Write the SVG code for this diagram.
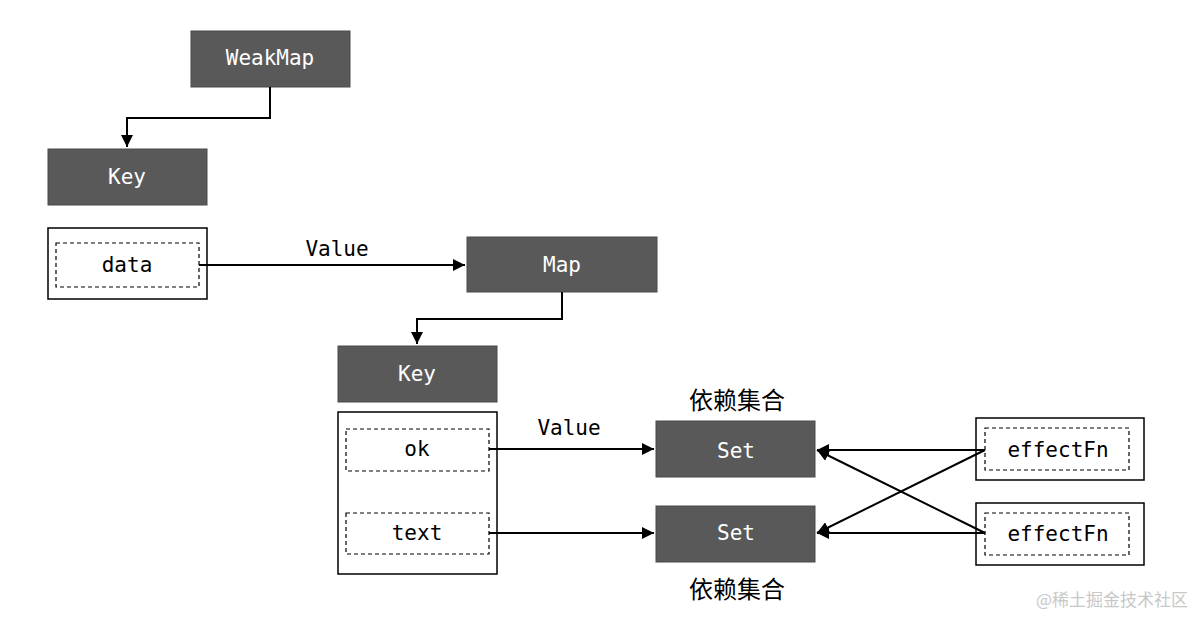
<svg xmlns="http://www.w3.org/2000/svg" width="1196" height="622" viewBox="0 0 1196 622">
<style>
.dark{fill:#595959;stroke:#4a4a4a;stroke-width:1}
.box{fill:#fff;stroke:#000;stroke-width:1.5}
.dash{fill:none;stroke:#000;stroke-width:1.2;stroke-dasharray:4 3}
.wt{font-family:"DejaVu Sans Mono","Liberation Mono",monospace;font-size:21px;fill:#fff;text-anchor:middle;dominant-baseline:central}
.bt{font-family:"DejaVu Sans Mono","Liberation Mono",monospace;font-size:21px;fill:#000;text-anchor:middle;dominant-baseline:central}
.cn{font-family:"Noto Sans CJK SC","Noto Sans",sans-serif;font-size:24px;font-weight:400;fill:#000;text-anchor:middle;dominant-baseline:central}
.ln{fill:none;stroke:#000;stroke-width:2}
</style>
<defs>
<marker id="ah2" viewBox="0 0 10 10" refX="10" refY="5" markerWidth="12" markerHeight="12" markerUnits="userSpaceOnUse" orient="auto">
<path d="M0,0 L10,5 L0,10 z" fill="#000"/>
</marker>
</defs>
<rect width="1196" height="622" fill="#fff"/>
<g id="weakmap"><rect class="dark" x="191" y="31" width="159" height="56"/><text class="wt" x="270" y="58">WeakMap</text></g>
<g id="key1"><rect class="dark" x="48" y="149" width="159" height="56"/><text class="wt" x="127" y="177">Key</text></g>
<g id="data"><rect class="box" x="48" y="228" width="159" height="71"/><rect class="dash" x="56" y="243" width="143" height="44"/><text class="bt" x="127" y="265">data</text></g>
<g id="map"><rect class="dark" x="467" y="237" width="190" height="55"/><text class="wt" x="562" y="265">Map</text></g>
<g id="key2"><rect class="dark" x="338" y="346" width="159" height="56"/><text class="wt" x="417" y="374">Key</text></g>
<g id="keys"><rect class="box" x="338" y="412" width="159" height="162"/>
<rect class="dash" x="346" y="429" width="143" height="42"/><text class="bt" x="417" y="449">ok</text>
<rect class="dash" x="346" y="513" width="143" height="41"/><text class="bt" x="417" y="533">text</text></g>
<g id="set1"><rect class="dark" x="656" y="421" width="159" height="56"/><text class="wt" x="736" y="451">Set</text><text class="cn" x="737" y="398">依赖集合</text></g>
<g id="set2"><rect class="dark" x="656" y="506" width="159" height="56"/><text class="wt" x="736" y="533">Set</text><text class="cn" x="737" y="587">依赖集合</text></g>
<g id="effect1"><rect class="box" x="976" y="418" width="168" height="62"/><rect class="dash" x="985" y="428" width="144" height="42"/><text class="bt" x="1058" y="450">effectFn</text></g>
<g id="effect2"><rect class="box" x="976" y="503" width="168" height="62"/><rect class="dash" x="985" y="513" width="144" height="42"/><text class="bt" x="1058" y="534">effectFn</text></g>
<g id="connectors">
<path class="ln" d="M270,87 V118 H127 V147" marker-end="url(#ah2)"/>
<path class="ln" d="M199,265 H465" marker-end="url(#ah2)"/>
<path class="ln" d="M562,292 V319 H417 V344" marker-end="url(#ah2)"/>
<path class="ln" d="M489,449 H654" marker-end="url(#ah2)"/>
<path class="ln" d="M489,533 H654" marker-end="url(#ah2)"/>
<path class="ln" d="M985,450 L817,450" marker-end="url(#ah2)"/>
<path class="ln" d="M985,450 L817,533" marker-end="url(#ah2)"/>
<path class="ln" d="M985,533 L817,533" marker-end="url(#ah2)"/>
<path class="ln" d="M985,533 L817,450" marker-end="url(#ah2)"/>
<text class="bt" x="337" y="249">Value</text>
<text class="bt" x="569" y="428">Value</text>
</g>
<text x="1188" y="606" font-family="Noto Sans CJK SC, sans-serif" font-size="17" fill="#c8c8c8" text-anchor="end">@稀土掘金技术社区</text>
</svg>
